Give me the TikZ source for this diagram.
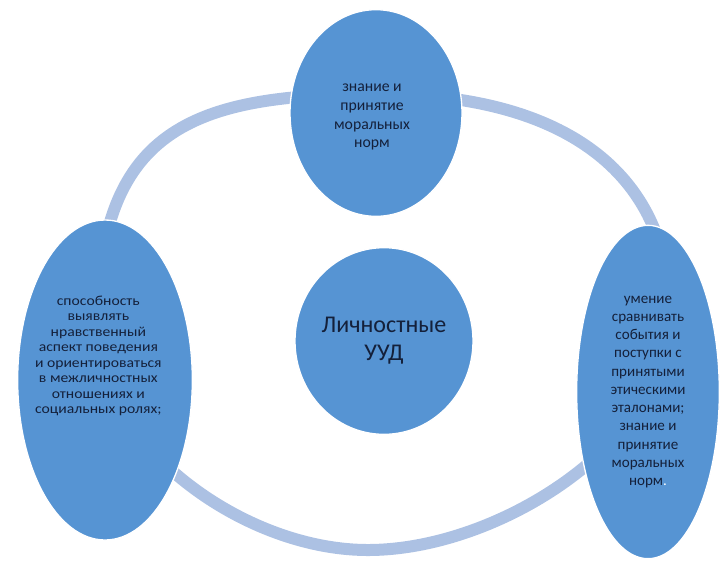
\documentclass[tikz,border=0pt]{standalone}
\usepackage{fontspec}
\setmainfont{Carlito}
\usetikzlibrary{shapes.geometric}

\definecolor{uudBlue}{RGB}{86,148,211}
\definecolor{uudRing}{RGB}{172,193,227}
\definecolor{uudInk}{RGB}{20,32,58}

\tikzset{	PxGrid/.style={x=0.75pt,y=-0.75pt},
	uudoval/.style={ellipse,fill=uudBlue,draw=white,line width=1pt,inner sep=0pt},
	uudtext/.style={text=uudInk,align=center,inner sep=0pt},
	uudring/.style={uudRing,line width=9pt}
	}

\begin{document}
\begin{tikzpicture}[PxGrid]
	\useasboundingbox (0,0) rectangle (721,562);

	% ring behind the ovals
	\draw[uudring] (378,94) .. controls (560,94) and (670,170) .. (670,315)
		.. controls (670,440) and (500,550) .. (368,550)
		.. controls (240,550) and (97,440) .. (97,330)
		.. controls (97,130) and (190,94) .. cycle;

	% ovals
	\node[uudoval,minimum width=129pt,minimum height=155pt] (normsO) at (376,113) {};
	\node[uudoval,minimum width=133.5pt,minimum height=140pt] (uudO) at (384,341) {};
	\node[uudoval,minimum width=131pt,minimum height=240pt] (abilO) at (105,380) {};
	\node[uudoval,minimum width=107pt,minimum height=250pt] (compO) at (648,392) {};

	% texts
	\node[uudtext,font=\fontsize{11.8}{14.2}\selectfont] (normsT) at ([xshift=-3pt,yshift=-3pt]normsO.center)
		{знание и\\принятие\\моральных\\норм};
	\node[uudtext,font=\fontsize{18}{21}\selectfont] (uudT) at (uudO.center) {Личностные\\УУД};
	\node[uudtext,font=\fontsize{10.4}{11.6}\selectfont,xscale=1.13,transform shape] (abilT)
		at ([xshift=-5pt,yshift=18pt]abilO.center)
		{способность\\выявлять\\нравственный\\аспект поведения\\и ориентироваться\\в межличностных\\отношениях и\\социальных ролях;};
	\node[uudtext,font=\fontsize{11.3}{13.7}\selectfont] (compT) at (compO.center)
		{умение\\сравнивать\\события и\\поступки с\\принятыми\\этическими\\эталонами;\\знание и\\принятие\\моральных\\норм{\color{white}.}};
\end{tikzpicture}
\end{document}
